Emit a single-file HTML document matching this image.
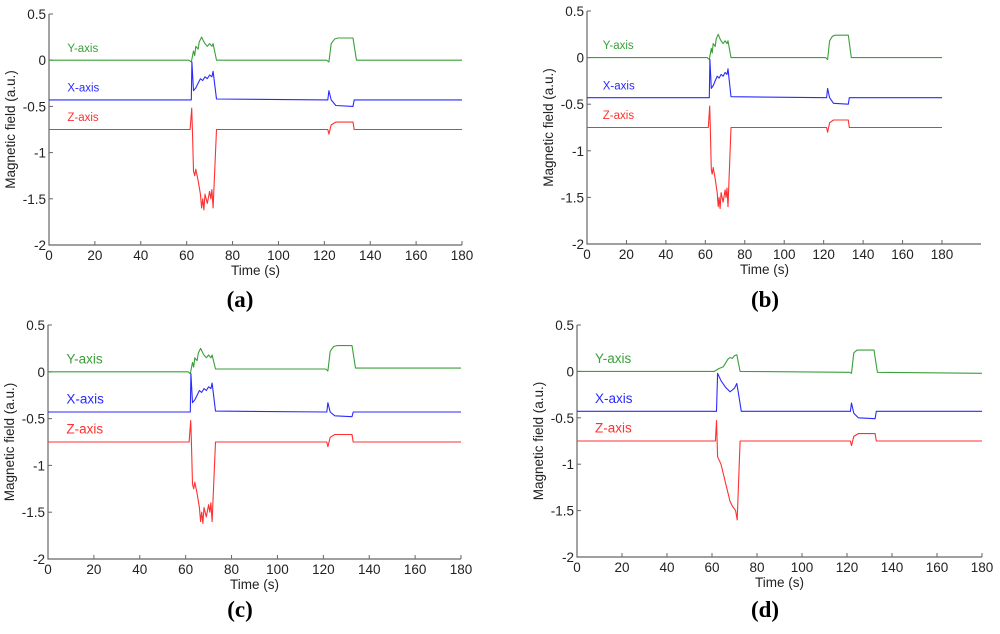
<!DOCTYPE html>
<html><head><meta charset="utf-8">
<style>
body{margin:0;background:#fff;}
svg{display:block;font-family:"Liberation Sans",sans-serif;}
.tk{font-size:13.5px;fill:#222;}
.cap{font-family:"Liberation Serif",serif;font-size:23px;font-weight:bold;fill:#000;}
</style></head>
<body>
<svg id="fig" width="1000" height="634" viewBox="0 0 1000 634"></svg>
<script>
// ---- data (time in s, field in a.u.) ----
const xTicks = [0,20,40,60,80,100,120,140,160,180];
const yTicks = [0.5,0,-0.5,-1,-1.5,-2];
const yTickLabels = ["0.5","0","-0.5","-1","-1.5","-2"];
const seriesNames = ["Y-axis","X-axis","Z-axis"];

const tY_a = [0,61,62,63,63.5,64,65,65.5,66.5,67.5,68,69,70,71,71.5,73,121,122,123,124.5,126,132.5,134,180];
const vY_a = [0,0,-0.02,0.1,0.05,0.15,0.12,0.2,0.25,0.2,0.18,0.15,0.18,0.15,0.18,0,0,-0.02,0.18,0.23,0.24,0.24,0,0];
const tX_a = [0,62,62.3,63,64,65,66,67,68,69,70,71,71.5,73,121.5,122,123,125,132.5,133,180];
const vX_a = [-0.43,-0.43,-0.02,-0.33,-0.3,-0.25,-0.2,-0.22,-0.18,-0.2,-0.16,-0.18,-0.12,-0.42,-0.43,-0.33,-0.43,-0.49,-0.5,-0.43,-0.43];
const tZ_a = [0,61.5,62.2,62.5,63,63.5,64,65,66,66.5,67,67.5,68,69,70,70.5,71,71.5,73,121.5,122,123,125,132.5,133,180];
const vZ_a = [-0.75,-0.75,-0.52,-0.75,-1.2,-1.25,-1.18,-1.3,-1.45,-1.6,-1.5,-1.62,-1.45,-1.55,-1.42,-1.5,-1.4,-1.6,-0.75,-0.75,-0.8,-0.7,-0.67,-0.67,-0.75,-0.75];

const vY_c = [0,0,-0.02,0.1,0.05,0.15,0.12,0.2,0.25,0.2,0.18,0.15,0.18,0.15,0.18,0.03,0.03,0.01,0.22,0.27,0.28,0.28,0.04,0.04];
const vX_c = [-0.43,-0.43,-0.02,-0.33,-0.3,-0.25,-0.2,-0.22,-0.18,-0.2,-0.16,-0.18,-0.12,-0.42,-0.43,-0.33,-0.43,-0.47,-0.48,-0.43,-0.43];

const tY_d = [0,61,63,65,67,68,69,70,71,72.5,121,122,123,124.5,132,133.5,180];
const vY_d = [0,0,0.03,0.05,0.13,0.15,0.14,0.17,0.18,0,-0.01,-0.02,0.2,0.23,0.23,-0.01,-0.02];
const tX_d = [0,62,62.5,64,66,68,69,70,71,71.5,73,121.5,122,123,125,132.5,133,180];
const vX_d = [-0.43,-0.43,-0.02,-0.1,-0.17,-0.22,-0.2,-0.18,-0.13,-0.2,-0.43,-0.43,-0.34,-0.45,-0.5,-0.51,-0.43,-0.43];
const tZ_d = [0,61.5,62,62.5,64,66,68,69,70.5,71.2,72.5,121.5,122,123,125,132.5,133,180];
const vZ_d = [-0.75,-0.75,-0.53,-0.92,-1.0,-1.2,-1.4,-1.45,-1.5,-1.6,-0.75,-0.75,-0.8,-0.7,-0.67,-0.67,-0.75,-0.75];

// ---- layout ----
const panels = [
 {id:"a", x0:49, x1:462, xEnd:462, yTop:14, yBot:245, fs:11.5, cap:[240,307],
  series:[[tY_a,vY_a],[tX_a,vX_a],[tZ_a,vZ_a]]},
 {id:"b", x0:587, x1:942, xEnd:981, yTop:11, yBot:244, fs:11.5, cap:[765,307],
  series:[[tY_a,vY_a],[tX_a,vX_a],[tZ_a,vZ_a]]},
 {id:"c", x0:48, x1:461, xEnd:461, yTop:325, yBot:559, fs:13.5, cap:[240,617],
  series:[[tY_a,vY_c],[tX_a,vX_c],[tZ_a,vZ_a]]},
 {id:"d", x0:577, x1:982, xEnd:982, yTop:325, yBot:557, fs:13.5, cap:[765,617],
  series:[[tY_d,vY_d],[tX_d,vX_d],[tZ_d,vZ_d]]}
];
const colors = ["#3a9f3a","#2a2aff","#ff3030"];
const labelOff = [[0.09],[0.09],[0.09]];
const NS = "http://www.w3.org/2000/svg";
const svg = document.getElementById("fig");
function mk(tag, attrs, parent){const e=document.createElementNS(NS,tag);for(const k in attrs)e.setAttribute(k,attrs[k]);(parent||svg).appendChild(e);return e;}

panels.forEach(p=>{
  const g = mk("g",{});
  
  
  const sx = t => p.x0 + (t/180)*(p.x1-p.x0);
  const sy = v => p.yTop + (0.5-v)/2.5*(p.yBot-p.yTop);
  const ax = mk("path",{d:`M${p.x0},${p.yTop}V${p.yBot}H${p.xEnd}`,stroke:"#666",fill:"none","stroke-width":1.2},g);
  
  
  xTicks.forEach(t=>{
    mk("line",{x1:sx(t),x2:sx(t),y1:p.yBot,y2:p.yBot-4,stroke:"#666"},g);
    const tl = mk("text",{x:sx(t),y:p.yBot+15,"text-anchor":"middle",class:"tk"},g);
    tl.textContent = t;
    
    
  });
  yTicks.forEach((v,i)=>{
    mk("line",{x1:p.x0,x2:p.x0+4,y1:sy(v),y2:sy(v),stroke:"#666"},g);
    const tl = mk("text",{x:p.x0-3,y:sy(v)+5,"text-anchor":"end",class:"tk"},g);
    tl.textContent = yTickLabels[i];
    
    
  });
  const xt = mk("text",{x:(p.x0+p.x1)/2,y:p.yBot+30,"text-anchor":"middle",class:"tk"},g);
  xt.textContent = "Time (s)";
  
  
  const yc = (p.yTop+p.yBot)/2;
  const yt = mk("text",{x:p.x0-34,y:yc,"text-anchor":"middle",class:"tk",transform:`rotate(-90 ${p.x0-34} ${yc})`},g);
  yt.textContent = "Magnetic field (a.u.)";
  
  
  p.series.forEach((s,i)=>{
    const [ts,vs] = s;
    let d = "";
    ts.forEach((t,j)=>{ d += (j?"L":"M")+sx(t).toFixed(1)+","+sy(vs[j]).toFixed(1); });
    const path = mk("path",{d:d,stroke:colors[i],fill:"none","stroke-width":1.1,"stroke-linejoin":"round"},g);
    
    
    const lb = mk("text",{x:sx(8),y:sy(vs[0]+labelOff[i][0]),fill:colors[i],"font-size":p.fs},g);
    lb.textContent = seriesNames[i];
    
    
  });
  const cap = mk("text",{x:p.cap[0],y:p.cap[1],"text-anchor":"middle",class:"cap"},g);
  cap.textContent = "("+p.id+")";
  
  
});
</script>
</body></html>
